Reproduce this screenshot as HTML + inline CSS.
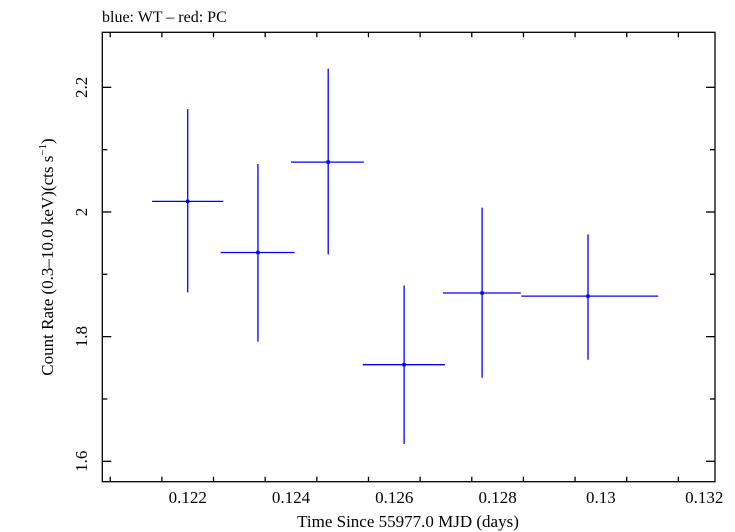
<!DOCTYPE html>
<html><head><meta charset="utf-8"><style>body{margin:0;background:#fff}svg{display:block;font-family:"Liberation Serif",serif}</style></head>
<body>
<svg id="chart" width="735" height="532" viewBox="0 0 735 532" xmlns="http://www.w3.org/2000/svg">
<text x="102" y="22" font-size="16">blue: WT – red: PC</text>
<rect x="102.3" y="32.3" width="612.7" height="449.4" fill="none" stroke="#000" stroke-width="1.3"/>
<g id="ticks"></g>
<g id="marks"></g>
<text x="408" y="527" font-size="17" text-anchor="middle">Time Since 55977.0 MJD (days)</text>
<text transform="translate(53,257) rotate(-90)" font-size="17" text-anchor="middle">Count Rate (0.3–10.0 keV)(cts s<tspan font-size="11" dy="-7">−1</tspan><tspan dy="7">)</tspan></text>
</svg>
<script>
const xTicks=[0.122,0.124,0.126,0.128,0.13,0.132];
const xTickLabels=["0.122","0.124","0.126","0.128","0.13","0.132"];
const yTicks=[1.6,1.8,2.0,2.2];
const yTickLabels=["1.6","1.8","2","2.2"];
const times=[0.12200,0.12336,0.12472,0.12619,0.12770,0.12975];
const timeLo=[0.12131,0.12264,0.12400,0.12539,0.12694,0.12846];
const timeHi=[0.12269,0.12407,0.12541,0.12698,0.12845,0.13111];
const rates=[2.017,1.935,2.080,1.755,1.870,1.865];
const rateHi=[2.165,2.077,2.230,1.882,2.007,1.964];
const rateLo=[1.871,1.792,1.932,1.628,1.734,1.763];
const NS="http://www.w3.org/2000/svg";
const L=102.3,R=715,T=32.3,B=481.7;
function xs(v){return 187.7+(v-0.122)*51650;}
function ys(v){return 461.3-(v-1.6)*623.3;}
function mk(tag,attrs,parent){const e=document.createElementNS(NS,tag);for(const k in attrs)e.setAttribute(k,attrs[k]);parent.appendChild(e);return e;}
const tg=document.getElementById('ticks');
for(let i=0;i<=12;i++){const v=0.1205+i*0.001;const x=xs(v);if(x<L+1||x>R-1)continue;
 const major=xTicks.some(t=>Math.abs(t-v)<1e-7);const len=major?9:5;
 const a=mk('line',{x1:x,x2:x,y1:B,y2:B-len,stroke:'#000','stroke-width':1.3},tg);
 
 
 const b=mk('line',{x1:x,x2:x,y1:T,y2:T+len,stroke:'#000','stroke-width':1.3},tg);
 
 }
xTicks.forEach((t,i)=>{const e=mk('text',{x:xs(t),y:503,'font-size':17,'text-anchor':'middle'},tg);e.textContent=xTickLabels[i];
 
 });
for(let i=0;i<=7;i++){const v=1.5+i*0.1;const y=ys(v);if(y<T+1||y>B-1)continue;
 const major=yTicks.some(t=>Math.abs(t-v)<1e-7);const len=major?9:5;
 const a=mk('line',{x1:L,x2:L+len,y1:y,y2:y,stroke:'#000','stroke-width':1.3},tg);
 
 
 const b=mk('line',{x1:R,x2:R-len,y1:y,y2:y,stroke:'#000','stroke-width':1.3},tg);
 
 }
yTicks.forEach((t,i)=>{const y=ys(t);const e=mk('text',{transform:`translate(87,${y}) rotate(-90)`,'font-size':17,'text-anchor':'middle'},tg);e.textContent=yTickLabels[i];
 
 });
const mg=document.getElementById('marks');
times.forEach((t,i)=>{
 const g=mk('g',{},mg);
 
 
 mk('line',{x1:xs(timeLo[i]),x2:xs(timeHi[i]),y1:ys(rates[i]),y2:ys(rates[i]),stroke:'#0000ff','stroke-width':1.3},g);
 mk('line',{x1:xs(t),x2:xs(t),y1:ys(rateHi[i]),y2:ys(rateLo[i]),stroke:'#0000ff','stroke-width':1.3},g);
 mk('rect',{x:xs(t)-1.7,y:ys(rates[i])-1.7,width:3.4,height:3.4,fill:'#0000ff'},g);
});
</script>
</body></html>
